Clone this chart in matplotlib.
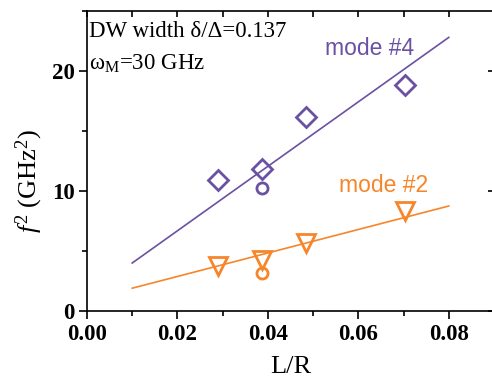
import matplotlib
matplotlib.use("Agg")
import matplotlib.pyplot as plt
from matplotlib.ticker import MultipleLocator

plt.rcParams['mathtext.fontset'] = 'custom'
plt.rcParams['mathtext.rm'] = 'Liberation Serif'
plt.rcParams['mathtext.it'] = 'Liberation Serif:italic'
plt.rcParams['mathtext.bf'] = 'Liberation Serif:bold'

# data
m4_x = [0.0289, 0.0387, 0.0484, 0.0703]
m4_y = [10.9, 11.8, 16.2, 18.8]
m4_circ_x = [0.0387]
m4_circ_y = [10.25]
m4_fit_x = [0.010, 0.080]
m4_fit_y = [4.0, 22.8]

m2_x = [0.0289, 0.0387, 0.0484, 0.0703]
m2_y = [3.75, 4.25, 5.65, 8.3]
m2_circ_x = [0.0387]
m2_circ_y = [3.2]
m2_fit_x = [0.010, 0.080]
m2_fit_y = [1.9, 8.75]

purple = '#6a51a3'
orange = '#f7862a'

fig = plt.figure(figsize=(4.92, 3.77), dpi=100)
ax = fig.add_axes([87/492, 66/377, 407/492, 300/377])

ax.plot(m4_fit_x, m4_fit_y, color=purple, lw=1.2)
ax.plot(m2_fit_x, m2_fit_y, color=orange, lw=1.2)
ax.plot(m4_x, m4_y, 'D', ms=10, mfc='none', mec=purple, mew=2)
ax.plot(m4_circ_x, m4_circ_y, 'o', ms=8, mfc='none', mec=purple, mew=2)
ax.plot(m2_x, m2_y, 'v', ms=13, mfc='none', mec=orange, mew=2)
ax.plot(m2_circ_x, m2_circ_y, 'o', ms=8, mfc='none', mec=orange, mew=2)

ax.set_xlim(0, 0.09)
ax.set_ylim(0, 25)
ax.xaxis.set_major_locator(MultipleLocator(0.02))
ax.xaxis.set_minor_locator(MultipleLocator(0.01))
ax.yaxis.set_major_locator(MultipleLocator(10))
ax.yaxis.set_minor_locator(MultipleLocator(5))
ax.xaxis.set_major_formatter(matplotlib.ticker.FormatStrFormatter('%.2f'))

ax.tick_params(axis='both', which='major', direction='out', length=6, width=1.2,
               labelsize=16.5, pad=3)
ax.tick_params(axis='both', which='minor', direction='out', length=3.5, width=1.2)
ax.tick_params(top=True, right=True, which='both')
for lab in ax.get_xticklabels() + ax.get_yticklabels():
    lab.set_fontfamily('Liberation Serif')
    lab.set_fontweight('bold')
for t in ax.xaxis.get_major_ticks() + ax.xaxis.get_minor_ticks():
    t.tick2line.set_marker(3)
    t.tick2line.set_markersize(4)
for t in ax.yaxis.get_major_ticks() + ax.yaxis.get_minor_ticks():
    t.tick2line.set_marker(0)
    t.tick2line.set_markersize(4)
for t in ax.yaxis.get_minor_ticks():
    t.tick2line.set_visible(False)

for s in ax.spines.values():
    s.set_linewidth(1.2)

ax.set_xlabel('L/R', fontfamily='Liberation Serif', fontsize=19, labelpad=8)
ax.set_ylabel(r'$f^2$ (GHz$^2$)', fontfamily='Liberation Serif', fontsize=19)
ax.yaxis.set_label_coords(-0.103, 0.433, transform=ax.transAxes)

ax.text(0.004, 0.912, 'DW width δ/Δ=0.137', transform=ax.transAxes,
        fontfamily='Liberation Serif', fontsize=16.5, va='baseline', ha='left')
ax.text(0.004, 0.805, r'ω$_{\rm M}$=30 GHz', transform=ax.transAxes,
        fontfamily='Liberation Serif', fontsize=16.5, va='baseline', ha='left')

ax.text(0.0625, 21.9, 'mode #4', color=purple, fontfamily='Liberation Sans',
        fontsize=16.5, ha='center', va='center')
ax.text(0.0656, 10.5, 'mode #2', color=orange, fontfamily='Liberation Sans',
        fontsize=16.5, ha='center', va='center')

fig.savefig('out.png', dpi=100)
